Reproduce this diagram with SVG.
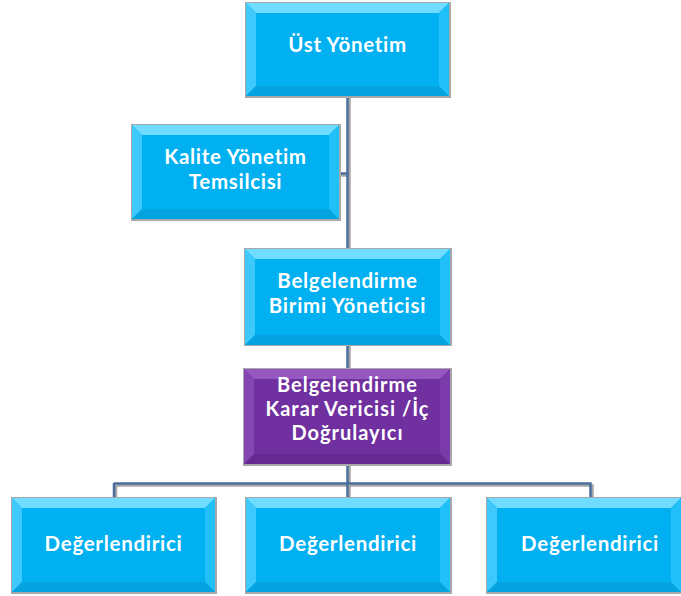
<svg xmlns="http://www.w3.org/2000/svg" width="681" height="596" viewBox="0 0 681 596">
<defs>
<style>
.t{font-family:Lato,"Open Sans","Liberation Sans",sans-serif;font-weight:bold;font-size:20.5px;letter-spacing:0.7px;fill:#ffffff;text-anchor:middle}
.tp{font-size:20px;letter-spacing:1px}
.ln{fill:none;stroke:#4a6e9c;stroke-width:2.5}
.sh{fill:none;stroke:#a6a6a6;stroke-width:2.5}
.frame{fill:#a8a8a8}
.bc{fill:#00b0f0}
.bcl{fill:#3ec8fb}
.bcd{fill:#22c0f8}
.bcb{fill:#05a4e0}
.bct{fill:#70dcff}
.pc{fill:#7030a0}
.pcl{fill:#8446b2}
.pcd{fill:#7a3aaa}
.pcb{fill:#642a92}
.pct{fill:#9458c0}
</style>
</defs>
<g id="connectors">
<path class="sh" d="M349.5 96 V498 M340 175.5 H349 M116 485.5 H592.5 V498 M116 485 V498"/>
<path class="ln" d="M347.5 96 V498 M339 173.5 H347.5 M114 483.5 H590.5 V498 M114 483 V498"/>
</g>
<g id="ust-yonetim">
<rect class="frame" x="245" y="2" width="206" height="96"/>
<rect class="bc" x="246" y="3" width="203" height="93"/>
<polygon class="bct" points="246,3 449,3 439,13 256,13"/>
<polygon class="bcl" points="246,3 256,13 256,86 246,96"/>
<polygon class="bcd" points="449,3 449,96 439,86 439,13"/>
<polygon class="bcb" points="246,96 449,96 439,86 256,86"/>
<text class="t" x="347.5" y="52">Üst Yönetim</text>
</g>
<g id="kalite">
<rect class="frame" x="131" y="124" width="210" height="97"/>
<rect class="bc" x="132" y="125" width="207" height="94"/>
<polygon class="bct" points="132,125 339,125 329,135 142,135"/>
<polygon class="bcl" points="132,125 142,135 142,209 132,219"/>
<polygon class="bcd" points="339,125 339,219 329,209 329,135"/>
<polygon class="bcb" points="132,219 339,219 329,209 142,209"/>
<text class="t" x="235.5" y="164">Kalite Yönetim</text>
<text class="t" x="235.5" y="189">Temsilcisi</text>
</g>
<g id="birim">
<rect class="frame" x="244" y="248" width="208" height="98"/>
<rect class="bc" x="245" y="249" width="205" height="96"/>
<polygon class="bct" points="245,249 450,249 440,259 255,259"/>
<polygon class="bcl" points="245,249 255,259 255,335 245,345"/>
<polygon class="bcd" points="450,249 450,345 440,335 440,259"/>
<polygon class="bcb" points="245,345 450,345 440,335 255,335"/>
<text class="t" x="347.5" y="288">Belgelendirme</text>
<text class="t" x="347.5" y="313">Birimi Yöneticisi</text>
</g>
<g id="karar">
<rect class="frame" x="243" y="368" width="209" height="98"/>
<rect class="pc" x="244" y="369" width="206" height="95"/>
<polygon class="pct" points="244,369 450,369 440,379 254,379"/>
<polygon class="pcl" points="244,369 254,379 254,454 244,464"/>
<polygon class="pcd" points="450,369 450,464 440,454 440,379"/>
<polygon class="pcb" points="244,464 450,464 440,454 254,454"/>
<text class="t tp" x="347.5" y="392">Belgelendirme</text>
<text class="t tp" x="347.5" y="416">Karar Vericisi /İç</text>
<text class="t tp" x="347.5" y="440">Doğrulayıcı</text>
</g>
<g id="degerlendirici-1">
<rect class="frame" x="11" y="497" width="206" height="97"/>
<rect class="bc" x="12" y="498" width="203" height="94"/>
<polygon class="bct" points="12,498 215,498 205,508 22,508"/>
<polygon class="bcl" points="12,498 22,508 22,582 12,592"/>
<polygon class="bcd" points="215,498 215,592 205,582 205,508"/>
<polygon class="bcb" points="12,592 215,592 205,582 22,582"/>
<text class="t" x="113.5" y="551">Değerlendirici</text>
</g>
<g id="degerlendirici-2">
<rect class="frame" x="245" y="497" width="207" height="97"/>
<rect class="bc" x="246" y="498" width="204" height="94"/>
<polygon class="bct" points="246,498 450,498 440,508 256,508"/>
<polygon class="bcl" points="246,498 256,508 256,582 246,592"/>
<polygon class="bcd" points="450,498 450,592 440,582 440,508"/>
<polygon class="bcb" points="246,592 450,592 440,582 256,582"/>
<text class="t" x="348" y="551">Değerlendirici</text>
</g>
<g id="degerlendirici-3">
<rect class="frame" x="486" y="497" width="196" height="97"/>
<rect class="bc" x="487" y="498" width="194" height="94"/>
<polygon class="bct" points="487,498 681,498 671,508 497,508"/>
<polygon class="bcl" points="487,498 497,508 497,582 487,592"/>
<polygon class="bcd" points="681,498 681,592 671,582 671,508"/>
<polygon class="bcb" points="487,592 681,592 671,582 497,582"/>
<text class="t" x="590" y="551">Değerlendirici</text>
</g>
</svg>
